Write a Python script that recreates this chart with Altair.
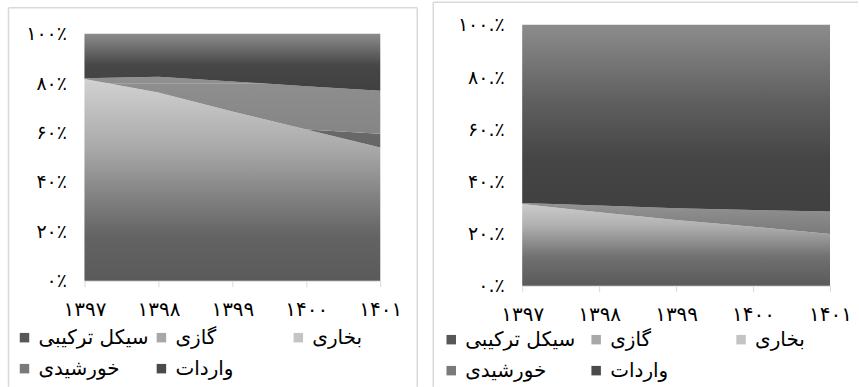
import altair as alt
import pandas as pd

# Years and generation sources (stacked bottom to top)
years = ["۱۳۹۷", "۱۳۹۸", "۱۳۹۹", "۱۴۰۰", "۱۴۰۱"]
series = ["سیکل ترکیبی", "گازی", "بخاری", "خورشیدی", "واردات"]

# Left panel: shares (%) per source
left_combined = [81.7, 76.2, 68.5, 61.3, 54.0]
left_gas = [0.0, 0.0, 0.0, 0.0, 5.5]
left_steam = [0.3, 6.4, 12.2, 17.5, 17.4]
left_solar = [0.0, 0.0, 0.0, 0.0, 0.0]
left_imports = [18.0, 17.4, 19.3, 21.2, 23.1]

# Right panel: shares (%) per source
right_combined = [31.3, 28.2, 25.2, 22.6, 19.8]
right_gas = [0.0, 0.0, 0.0, 0.0, 0.0]
right_steam = [0.4, 2.5, 4.5, 6.4, 8.6]
right_solar = [0.0, 0.0, 0.0, 0.0, 0.0]
right_imports = [68.3, 69.3, 70.3, 71.0, 71.6]

# Axis ticks and labels
y_ticks = [0, 20, 40, 60, 80, 100]
left_y_labels = ["۰٪", "۲۰٪", "۴۰٪", "۶۰٪", "۸۰٪", "۱۰۰٪"]
right_y_labels = ["۰.٪", "۲۰.٪", "۴۰.٪", "۶۰.٪", "۸۰.٪", "۱۰۰.٪"]

legend_colors = ["#575757", "#a8a8a8", "#c4c4c4", "#7a7a7a", "#4a4a4a"]

FONT = "DejaVu Sans"


def grad(stops):
    return alt.Gradient(
        gradient="linear", x1=0, y1=0, x2=0, y2=1,
        stops=[alt.GradientStop(offset=o, color=c) for o, c in stops],
    )


left_fills = {
    "سیکل ترکیبی": grad([(0, "#d2d2d2"), (0.35, "#a8a8a8"), (0.55, "#878787"),
                         (0.78, "#636363"), (1, "#5a5a5a")]),
    "گازی": grad([(0, "#6e6e6e"), (1, "#666666")]),
    "بخاری": grad([(0, "#909090"), (0.1, "#8f8f8f"), (0.105, "#a3a3a3"),
                   (0.122, "#a3a3a3"), (0.127, "#8e8e8e"), (1, "#858585")]),
    "خورشیدی": grad([(0, "#7a7a7a"), (1, "#6a6a6a")]),
    "واردات": grad([(0, "#8c8c8c"), (0.55, "#474747"), (1, "#404040")]),
}

right_fills = {
    "سیکل ترکیبی": grad([(0, "#cacaca"), (0.25, "#b2b2b2"), (0.65, "#707070"),
                         (1, "#5a5a5a")]),
    "گازی": grad([(0, "#a0a0a0"), (1, "#909090")]),
    "بخاری": grad([(0, "#939393"), (1, "#7a7a7a")]),
    "خورشیدی": grad([(0, "#7a7a7a"), (1, "#6a6a6a")]),
    "واردات": grad([(0, "#8c8c8c"), (0.4, "#606060"), (0.72, "#454545"),
                    (1, "#404040")]),
}


def label_expr(labels):
    parts = [f"round(datum.value*100) == {t} ? '{l}'" for t, l in zip(y_ticks, labels)]
    return " : ".join(parts) + " : ''"


def panel(columns, fills, width, height, y_range, y_labels, frame_segments,
          legend_xy, x_pad, col_pad):
    rows = []
    for s_i, (name, vals) in enumerate(zip(series, columns)):
        for yr, v in zip(years, vals):
            rows.append({"year": yr, "series": name, "value": v, "order": s_i})
    df = pd.DataFrame(rows)

    base = alt.Chart(df).transform_stack(
        stack="value",
        groupby=["year"],
        as_=["y0", "y1"],
        offset="normalize",
        sort=[alt.SortField("order", order="ascending")],
    )

    x_enc = alt.X(
        "year:O", sort=years,
        scale=alt.Scale(type="point", padding=0),
        axis=alt.Axis(title=None, labelAngle=0, labelFont=FONT, labelFontSize=20,
                      labelColor="#000000", tickColor="#d9d9d9", tickSize=6,
                      domainColor="#d9d9d9", labelPadding=x_pad, grid=False),
    )
    y_enc = alt.Y(
        "y1:Q",
        scale=alt.Scale(domain=[0, 1], range=y_range, nice=False),
        axis=alt.Axis(title=None, values=[t / 100 for t in y_ticks],
                      labelExpr=label_expr(y_labels), labelFont=FONT,
                      labelFontSize=19, labelColor="#000000", ticks=False,
                      domain=False, grid=False, labelPadding=18),
    )

    layers = []
    for name in series:
        layers.append(
            base.transform_filter(alt.datum.series == name)
            .mark_area(color=fills[name], line=False)
            .encode(x=x_enc, y=y_enc, y2="y0:Q")
        )

    lx, ly = legend_xy
    legend_layer = base.mark_square(opacity=0).encode(
        x=x_enc, y=y_enc,
        color=alt.Color(
            "series:N",
            scale=alt.Scale(domain=series, range=legend_colors),
            legend=alt.Legend(
                orient="none", legendX=lx, legendY=ly, columns=3, title=None,
                direction="horizontal",
                symbolType="square", symbolSize=90, symbolOpacity=1,
                symbolStrokeWidth=0, labelFont=FONT, labelFontSize=20,
                labelColor="#000000", gridAlign="all", columnPadding=col_pad,
                rowPadding=11, labelOffset=4, labelLimit=300,
            ),
        ),
    )

    frame_df = pd.DataFrame(frame_segments, columns=["x", "x2", "y", "y2"])
    frame_layer = alt.Chart(frame_df).mark_rule(
        color="#d9d9d9", strokeWidth=1.5
    ).encode(
        x=alt.X("x:Q", scale=None), x2="x2:Q",
        y=alt.Y("y:Q", scale=None), y2="y2:Q",
    )

    return alt.layer(*layers, legend_layer, frame_layer).properties(
        width=width, height=height
    )


# Frame edges of each panel, in pixels relative to its plot area
left_frame = [
    (-76, -76, -17, 362),
    (-76, 333, -17, -17),
    (333, 333, -17, 362),
]
right_frame = [
    (-89, -89, -22.5, 362),
    (-89, 336, -22.5, -22.5),
]

left = panel(
    [left_combined, left_gas, left_steam, left_solar, left_imports],
    left_fills, 296, 256, [256, 9], left_y_labels,
    left_frame, (-70, 303), 13, 2,
)
right = panel(
    [right_combined, right_gas, right_steam, right_solar, right_imports],
    right_fills, 308, 261, [261, 0], right_y_labels,
    right_frame, (-81, 305), 13, 10,
)

chart = (
    alt.hconcat(left, right, spacing=142, bounds="flush")
    .resolve_scale(color="independent")
    .resolve_legend(color="independent")
    .properties(padding={"left": 7.5, "top": 0.75, "right": 0, "bottom": 0},
                background="#ffffff")
    .configure_view(stroke=None)
)

chart.save("out.html", embed_options={"renderer": "svg", "actions": False})
